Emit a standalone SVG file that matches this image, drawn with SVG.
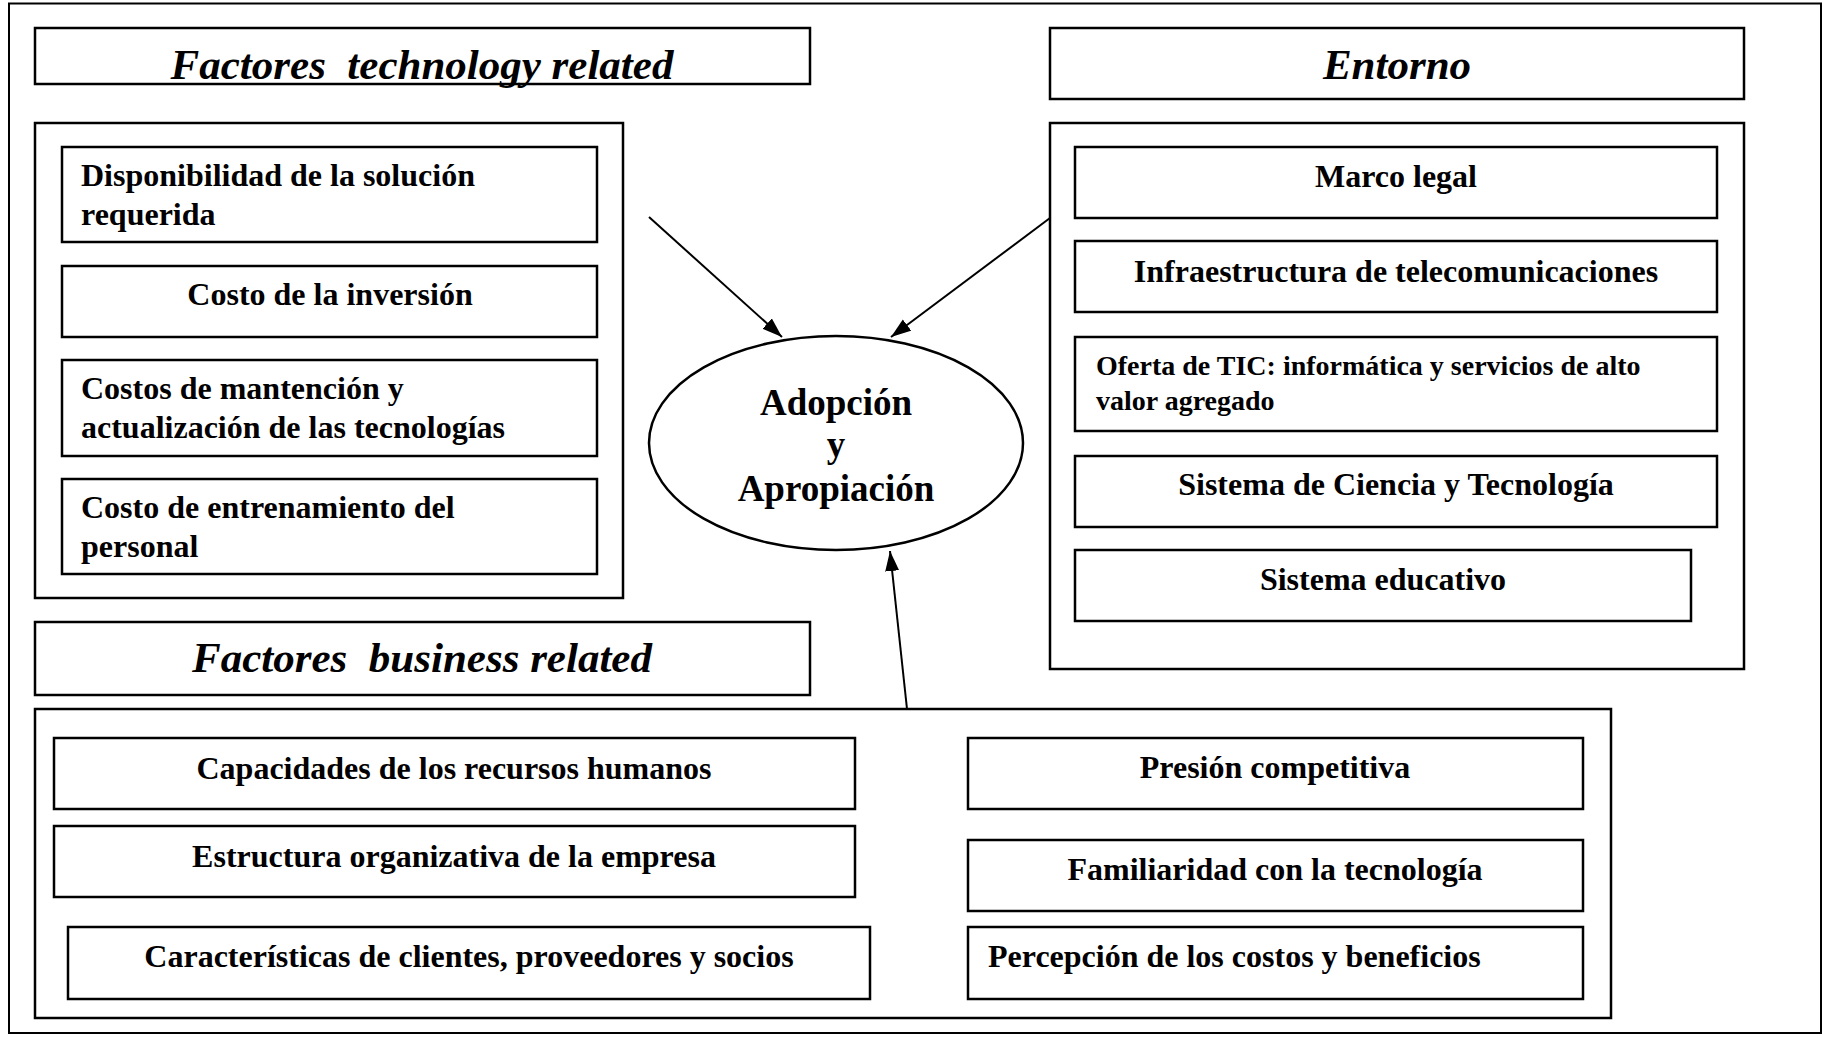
<svg xmlns="http://www.w3.org/2000/svg" width="1827" height="1038" viewBox="0 0 1827 1038">
<style>
.box{fill:#fff;stroke:#000;stroke-width:2.5}
.frame{fill:none;stroke:#000;stroke-width:2}
.t{font-family:"Liberation Serif","Times New Roman",serif;font-weight:bold;font-size:32px;fill:#000}
.c{text-anchor:middle}
.h{font-family:"Liberation Serif","Times New Roman",serif;font-weight:bold;font-style:italic;font-size:43px;fill:#000;text-anchor:middle}
.e{font-family:"Liberation Serif","Times New Roman",serif;font-weight:bold;font-size:37px;fill:#000;text-anchor:middle}
.arr{stroke:#000;stroke-width:2;fill:none;marker-end:url(#ah)}
</style>
<defs>
<marker id="ah" markerUnits="userSpaceOnUse" markerWidth="22" markerHeight="16" refX="20" refY="7" orient="auto">
<path d="M0,0 L20,7 L0,14 Z" fill="#000"/>
</marker>
</defs>
<rect width="1827" height="1038" fill="#fff"/>
<rect class="frame" x="9" y="3.5" width="1812" height="1029.5"/>

<g id="tech-title"><rect class="box" x="35" y="28" width="775" height="56"/><text class="h" x="422" y="79">Factores&#160; technology related</text></g>
<g id="tech-group"><rect class="box" x="35" y="123" width="588" height="475"/></g>
<g id="disponibilidad"><rect class="box" x="62" y="147" width="535" height="95"/><text class="t" x="81" y="186">Disponibilidad de la solución</text><text class="t" x="81" y="225">requerida</text></g>
<g id="costo-inversion"><rect class="box" x="62" y="266" width="535" height="71"/><text class="t c" x="330" y="305">Costo de la inversión</text></g>
<g id="costos-mantencion"><rect class="box" x="62" y="360" width="535" height="96"/><text class="t" x="81" y="399">Costos de mantención y</text><text class="t" x="81" y="438">actualización de las tecnologías</text></g>
<g id="costo-entrenamiento"><rect class="box" x="62" y="479" width="535" height="95"/><text class="t" x="81" y="518">Costo de entrenamiento del</text><text class="t" x="81" y="557">personal</text></g>

<g id="entorno-title"><rect class="box" x="1050" y="28" width="694" height="71"/><text class="h" x="1397" y="79">Entorno</text></g>
<g id="entorno-group"><rect class="box" x="1050" y="123" width="694" height="546"/></g>
<g id="marco-legal"><rect class="box" x="1075" y="147" width="642" height="71"/><text class="t c" x="1396" y="187">Marco legal</text></g>
<g id="infraestructura"><rect class="box" x="1075" y="241" width="642" height="71"/><text class="t c" x="1396" y="282">Infraestructura de telecomunicaciones</text></g>
<g id="oferta-tic"><rect class="box" x="1075" y="337" width="642" height="94"/><text class="t" x="1096" y="375" style="font-size:28px">Oferta de TIC: informática y servicios de alto</text><text class="t" x="1096" y="410" style="font-size:28px">valor agregado</text></g>
<g id="sistema-cyt"><rect class="box" x="1075" y="456" width="642" height="71"/><text class="t c" x="1396" y="495">Sistema de Ciencia y Tecnología</text></g>
<g id="sistema-educativo"><rect class="box" x="1075" y="550" width="616" height="71"/><text class="t c" x="1383" y="590">Sistema educativo</text></g>

<g id="adopcion"><ellipse class="box" cx="836" cy="443" rx="187" ry="107"/><text class="e" x="836" y="415">Adopción</text><text class="e" x="836" y="457">y</text><text class="e" x="836" y="501">Apropiación</text></g>

<g id="business-title"><rect class="box" x="35" y="622" width="775" height="73"/><text class="h" x="422" y="672">Factores&#160; business related</text></g>
<g id="business-group"><rect class="box" x="35" y="709" width="1576" height="309"/></g>
<g id="capacidades"><rect class="box" x="54" y="738" width="801" height="71"/><text class="t c" x="454" y="779">Capacidades de los recursos humanos</text></g>
<g id="estructura"><rect class="box" x="54" y="826" width="801" height="71"/><text class="t c" x="454" y="867">Estructura organizativa de la empresa</text></g>
<g id="caracteristicas"><rect class="box" x="68" y="927" width="802" height="72"/><text class="t c" x="469" y="967">Características de clientes, proveedores y socios</text></g>
<g id="presion"><rect class="box" x="968" y="738" width="615" height="71"/><text class="t c" x="1275" y="778">Presión competitiva</text></g>
<g id="familiaridad"><rect class="box" x="968" y="840" width="615" height="71"/><text class="t c" x="1275" y="880">Familiaridad con la tecnología</text></g>
<g id="percepcion"><rect class="box" x="968" y="927" width="615" height="72"/><text class="t" x="988" y="967">Percepción de los costos y beneficios</text></g>

<g id="connectors">
<line class="arr" x1="649" y1="217" x2="782" y2="337"/>
<line class="arr" x1="1050" y1="218" x2="891" y2="337"/>
<line class="arr" x1="907" y1="709" x2="890" y2="551"/>
</g>
</svg>
